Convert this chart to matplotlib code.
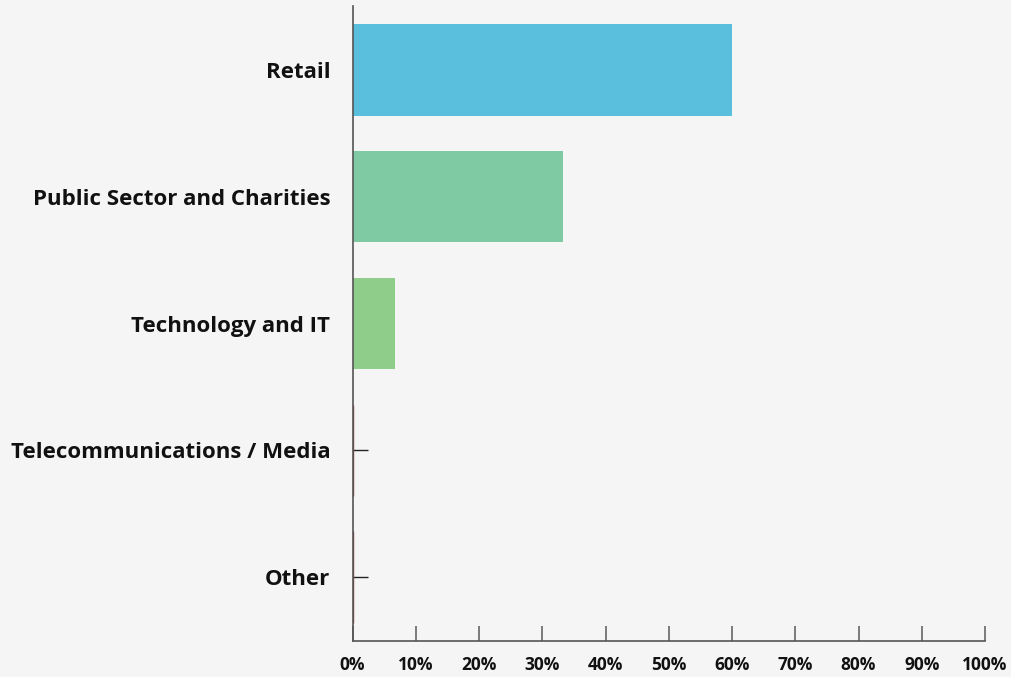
import matplotlib
matplotlib.use("Agg")
import matplotlib.pyplot as plt
from matplotlib.ticker import MultipleLocator, FuncFormatter

categories = ["Retail", "Public Sector and Charities", "Technology and IT",
              "Telecommunications / Media", "Other"]
values = [60.0, 33.33, 6.67, 0.0, 0.0]
colors = ["#59BFDC", "#7FC9A3", "#8FCD8A", "#8B3A3A", "#8B3A3A"]

plt.rcParams["font.family"] = ["Open Sans", "DejaVu Sans"]
bg = "#F5F5F5"

fig = plt.figure(figsize=(10.11, 6.77), dpi=100, facecolor=bg)
ax = fig.add_axes([0.3487, 0.0539, 0.6256, 0.9365], facecolor=bg)

pos = list(range(len(categories)))
for p, v, c in zip(pos, values, colors):
    ax.barh(p, v, height=0.72, color=c,
            edgecolor=c if v == 0 else "none", linewidth=1.0 if v == 0 else 0, zorder=2)

ax.set_ylim(len(categories) - 0.5, -0.5)
ax.set_xlim(0, 100)
ax.set_yticks(pos)
ax.set_yticklabels(categories)
ax.xaxis.set_major_locator(MultipleLocator(10))
ax.xaxis.set_major_formatter(FuncFormatter(lambda x, _: f"{x:.0f}%"))

ax.spines["top"].set_visible(False)
ax.spines["right"].set_visible(False)
ax.spines["left"].set_color("#555555")
ax.spines["left"].set_linewidth(1.2)
ax.spines["bottom"].set_color("#555555")
ax.spines["bottom"].set_linewidth(1.2)

ax.tick_params(axis="x", direction="in", length=11, width=1.2, color="#666666",
               labelsize=12.5, pad=11, labelcolor="#111111")
ax.tick_params(axis="y", direction="in", length=11, width=1.0, color="#222222",
               labelsize=16, pad=16, labelcolor="#111111")
for lab in ax.get_xticklabels() + ax.get_yticklabels():
    lab.set_fontweight("bold")

fig.savefig("out.png", dpi=100, facecolor=bg)
